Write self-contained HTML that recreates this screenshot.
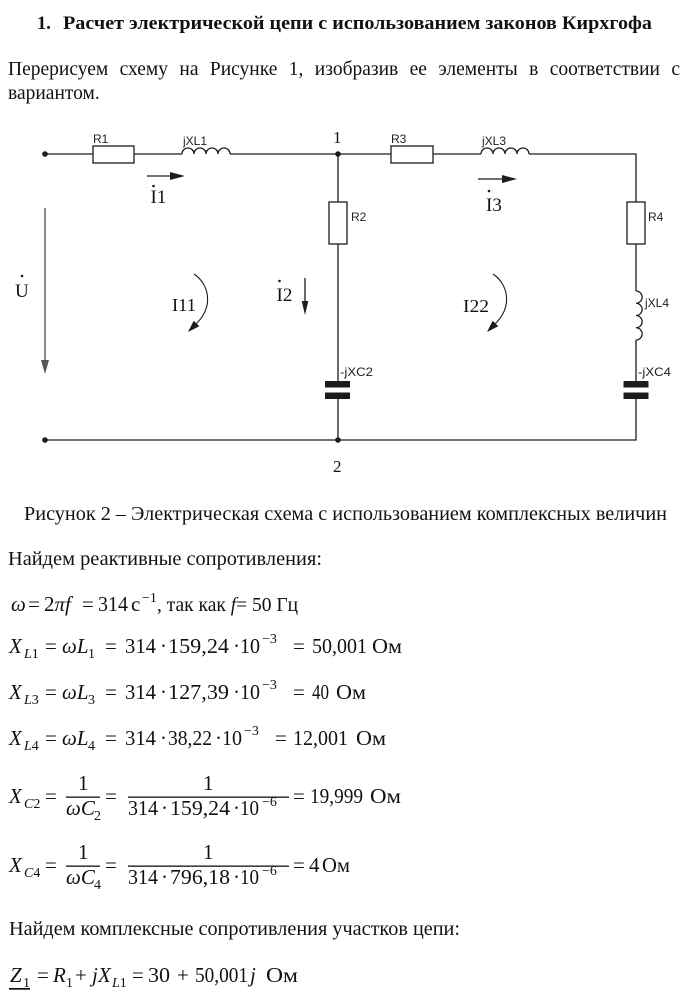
<!DOCTYPE html>
<html><head><meta charset="utf-8">
<style>
html,body{margin:0;padding:0;background:#fff;}
body{position:relative;width:688px;height:1000px;overflow:hidden;}
svg{display:block;position:absolute;left:0;top:0;}
.t{font-family:"Liberation Serif",serif;fill:#111;}
.m{font-family:"Liberation Serif",serif;font-size:21px;fill:#111;}
.sb{font-family:"Liberation Serif",serif;font-size:14px;fill:#111;}
.s{font-family:"Liberation Sans",sans-serif;font-size:12px;fill:#222;}
.i{font-style:italic;}
#para{position:absolute;left:8px;top:58px;width:672px;font-family:"Liberation Serif",serif;font-size:19.5px;line-height:24px;color:#111;text-align:justify;margin:0;}
</style></head><body>
<svg width="688" height="1000" viewBox="0 0 688 1000" xmlns="http://www.w3.org/2000/svg">
<rect width="688" height="1000" fill="#fff"/>

<!-- Title -->
<text class="t" x="37" y="29" font-size="18.5" font-weight="bold">1.</text>
<text class="t" x="63" y="29" font-size="18.5" font-weight="bold" textLength="589" lengthAdjust="spacingAndGlyphs">Расчет электрической цепи с использованием законов Кирхгофа</text>

<!-- Circuit -->
<g stroke="#1c1c1c" stroke-width="1.3" fill="none">
  <path d="M45,154 H93 M134,154 H182 M230,154 H391 M433,154 H481 M529,154 H636 V202 M636,244 V291 M636,340 V381 M636,399 V440 H45"/>
  <path d="M338,154 V202 M338,244 V381 M338,399 V440"/>
  <rect x="93" y="146" width="41" height="17"/>
  <rect x="391" y="146" width="42" height="17"/>
  <rect x="329" y="202" width="18" height="42"/>
  <rect x="627" y="202" width="18" height="42"/>
  <path d="M182,154 a6,6 0 0 1 12,0 a6,6 0 0 1 12,0 a6,6 0 0 1 12,0 a6,6 0 0 1 12,0"/>
  <path d="M481,154 a6,6 0 0 1 12,0 a6,6 0 0 1 12,0 a6,6 0 0 1 12,0 a6,6 0 0 1 12,0"/>
  <path d="M636,291 a6.1,6.1 0 0 1 0,12.25 a6.1,6.1 0 0 1 0,12.25 a6.1,6.1 0 0 1 0,12.25 a6.1,6.1 0 0 1 0,12.25"/>
  <path d="M147,176 H172"/>
  <path d="M478,179 H503"/>
  <path d="M305,278 V302"/>
  <path d="M194,274 C209,284 214,306 196.5,323.5" stroke-width="1.1"/>
  <path d="M493,274 C508,284 513,306 495.5,323.5" stroke-width="1.1"/>
</g>
<path d="M45,208 V362" stroke="#707070" stroke-width="1.6"/>
<polygon points="41,360 45,374 49,360" fill="#555"/>
<g fill="#1c1c1c">
  <rect x="325" y="381" width="25" height="6.5"/>
  <rect x="325" y="392.5" width="25" height="6.5"/>
  <rect x="623.5" y="381" width="25" height="6.5"/>
  <rect x="623.5" y="392.5" width="25" height="6.5"/>
  <circle cx="45" cy="154" r="2.8"/>
  <circle cx="338" cy="154" r="2.8"/>
  <circle cx="45" cy="440" r="2.8"/>
  <circle cx="338" cy="440" r="2.8"/>
  <polygon points="170,172 185,176 170,180"/>
  <polygon points="502,175 517,179 502,183"/>
  <polygon points="301.7,301 305,315 308.3,301"/>
  <polygon points="188,332 199.3,326.3 193.7,320.7"/>
  <polygon points="487,332 498.3,326.3 492.7,320.7"/>
  <circle cx="153.5" cy="186" r="1.3"/>
  <circle cx="489" cy="191" r="1.3"/>
  <circle cx="279.5" cy="281" r="1.3"/>
  <circle cx="22" cy="276" r="1.3"/>
</g>

<text class="s" x="93" y="143">R1</text>
<text class="s" x="183" y="145">jXL1</text>
<text class="s" x="391" y="143">R3</text>
<text class="s" x="482" y="145">jXL3</text>
<text class="s" x="351" y="221">R2</text>
<text class="s" x="648" y="221">R4</text>
<text class="s" x="645" y="307">jXL4</text>
<text class="s" x="340" y="376" textLength="33" lengthAdjust="spacingAndGlyphs">-jXC2</text>
<text class="s" x="638" y="376" textLength="33" lengthAdjust="spacingAndGlyphs">-jXC4</text>

<text class="t" x="333" y="143" font-size="17">1</text>
<text class="t" x="333" y="472" font-size="17">2</text>
<text class="t" x="150.5" y="203" font-size="19">I1</text>
<text class="t" x="486" y="211" font-size="19">I3</text>
<text class="t" x="276.5" y="301" font-size="19">I2</text>
<text class="t" x="15" y="297" font-size="19">U</text>
<text class="t" x="172" y="311" font-size="18" textLength="24" lengthAdjust="spacingAndGlyphs">I11</text>
<text class="t" x="463" y="312" font-size="18" textLength="26" lengthAdjust="spacingAndGlyphs">I22</text>

<!-- Caption -->
<text class="t" x="24" y="520" font-size="19.5" textLength="643" lengthAdjust="spacingAndGlyphs">Рисунок 2 – Электрическая схема с использованием комплексных величин</text>

<text class="t" x="8" y="565" font-size="19.5" textLength="314" lengthAdjust="spacingAndGlyphs">Найдем реактивные сопротивления:</text>

<!-- omega line -->
<text class="m i" x="11" y="611">ω</text>
<text class="m" x="28" y="611">=</text>
<text class="m" x="44" y="611">2<tspan class="i">πf</tspan></text>
<text class="m" x="82" y="611">=</text>
<text class="m" x="98" y="611" textLength="30" lengthAdjust="spacingAndGlyphs">314</text>
<text class="m" x="131" y="611">с</text>
<text class="sb" x="142" y="602">−1</text>
<text class="t" x="157" y="611" font-size="19.5">, так как <tspan class="i">f</tspan>= 50 Гц</text>

<!-- XL1 -->
<text class="m i" x="9" y="653">X</text>
<text class="sb" x="24" y="658"><tspan class="i">L</tspan>1</text>
<text class="m" x="45" y="653">=</text>
<text class="m i" x="62" y="653">ωL</text>
<text class="sb" x="88" y="658">1</text>
<text class="m" x="105" y="653">=</text>
<text class="m" x="125" y="653" textLength="31" lengthAdjust="spacingAndGlyphs">314</text>
<text class="m" x="160" y="653">·</text>
<text class="m" x="168" y="653" textLength="61" lengthAdjust="spacingAndGlyphs">159,24</text>
<text class="m" x="233" y="653">·</text>
<text class="m" x="240" y="653" textLength="20" lengthAdjust="spacingAndGlyphs">10</text>
<text class="sb" x="262" y="643">−3</text>
<text class="m" x="293" y="653">=</text>
<text class="m" x="312" y="653" textLength="55" lengthAdjust="spacingAndGlyphs">50,001</text>
<text class="m" x="372" y="653" textLength="30" lengthAdjust="spacingAndGlyphs">Ом</text>

<!-- XL3 -->
<text class="m i" x="9" y="699">X</text>
<text class="sb" x="24" y="704"><tspan class="i">L</tspan>3</text>
<text class="m" x="45" y="699">=</text>
<text class="m i" x="62" y="699">ωL</text>
<text class="sb" x="88" y="704">3</text>
<text class="m" x="105" y="699">=</text>
<text class="m" x="125" y="699" textLength="31" lengthAdjust="spacingAndGlyphs">314</text>
<text class="m" x="160" y="699">·</text>
<text class="m" x="168" y="699" textLength="61" lengthAdjust="spacingAndGlyphs">127,39</text>
<text class="m" x="233" y="699">·</text>
<text class="m" x="240" y="699" textLength="20" lengthAdjust="spacingAndGlyphs">10</text>
<text class="sb" x="262" y="689">−3</text>
<text class="m" x="293" y="699">=</text>
<text class="m" x="312" y="699" textLength="17" lengthAdjust="spacingAndGlyphs">40</text>
<text class="m" x="336" y="699" textLength="30" lengthAdjust="spacingAndGlyphs">Ом</text>

<!-- XL4 -->
<text class="m i" x="9" y="745">X</text>
<text class="sb" x="24" y="750"><tspan class="i">L</tspan>4</text>
<text class="m" x="45" y="745">=</text>
<text class="m i" x="62" y="745">ωL</text>
<text class="sb" x="88" y="750">4</text>
<text class="m" x="105" y="745">=</text>
<text class="m" x="125" y="745" textLength="31" lengthAdjust="spacingAndGlyphs">314</text>
<text class="m" x="160" y="745">·</text>
<text class="m" x="168" y="745" textLength="44" lengthAdjust="spacingAndGlyphs">38,22</text>
<text class="m" x="215" y="745">·</text>
<text class="m" x="222" y="745" textLength="20" lengthAdjust="spacingAndGlyphs">10</text>
<text class="sb" x="244" y="735">−3</text>
<text class="m" x="275" y="745">=</text>
<text class="m" x="293" y="745" textLength="55" lengthAdjust="spacingAndGlyphs">12,001</text>
<text class="m" x="356" y="745" textLength="30" lengthAdjust="spacingAndGlyphs">Ом</text>

<!-- XC2 -->
<text class="m i" x="9" y="803">X</text>
<text class="sb" x="24" y="808"><tspan class="i">C</tspan>2</text>
<text class="m" x="45" y="803">=</text>
<rect x="66" y="796.5" width="34" height="1.3" fill="#111"/>
<text class="m" x="78" y="790">1</text>
<text class="m i" x="66" y="815">ωC</text>
<text class="sb" x="94" y="820">2</text>
<text class="m" x="105" y="803">=</text>
<rect x="128" y="796.5" width="161" height="1.3" fill="#111"/>
<text class="m" x="203" y="790">1</text>
<text class="m" x="128" y="815" textLength="30" lengthAdjust="spacingAndGlyphs">314</text>
<text class="m" x="161" y="815">·</text>
<text class="m" x="170" y="815" textLength="60" lengthAdjust="spacingAndGlyphs">159,24</text>
<text class="m" x="233" y="815">·</text>
<text class="m" x="240" y="815" textLength="19" lengthAdjust="spacingAndGlyphs">10</text>
<text class="sb" x="262" y="806">−6</text>
<text class="m" x="293" y="803">=</text>
<text class="m" x="310" y="803" textLength="53" lengthAdjust="spacingAndGlyphs">19,999</text>
<text class="m" x="370" y="803" textLength="31" lengthAdjust="spacingAndGlyphs">Ом</text>

<!-- XC4 -->
<text class="m i" x="9" y="872">X</text>
<text class="sb" x="24" y="877"><tspan class="i">C</tspan>4</text>
<text class="m" x="45" y="872">=</text>
<rect x="66" y="865.5" width="34" height="1.3" fill="#111"/>
<text class="m" x="78" y="859">1</text>
<text class="m i" x="66" y="884">ωC</text>
<text class="sb" x="94" y="889">4</text>
<text class="m" x="105" y="872">=</text>
<rect x="128" y="865.5" width="161" height="1.3" fill="#111"/>
<text class="m" x="203" y="859">1</text>
<text class="m" x="128" y="884" textLength="30" lengthAdjust="spacingAndGlyphs">314</text>
<text class="m" x="161" y="884">·</text>
<text class="m" x="170" y="884" textLength="60" lengthAdjust="spacingAndGlyphs">796,18</text>
<text class="m" x="233" y="884">·</text>
<text class="m" x="240" y="884" textLength="19" lengthAdjust="spacingAndGlyphs">10</text>
<text class="sb" x="262" y="875">−6</text>
<text class="m" x="293" y="872">=</text>
<text class="m" x="309" y="872">4</text>
<text class="m" x="322" y="872" textLength="28" lengthAdjust="spacingAndGlyphs">Ом</text>

<text class="t" x="9" y="935" font-size="19.5" textLength="451" lengthAdjust="spacingAndGlyphs">Найдем комплексные сопротивления участков цепи:</text>

<!-- Z1 -->
<text class="m i" x="10" y="982">Z</text>
<text class="sb" x="23" y="987">1</text>
<rect x="9" y="988" width="21" height="1.7" fill="#111"/>
<text class="m" x="37" y="982">=</text>
<text class="m i" x="53" y="982">R</text>
<text class="sb" x="66" y="987">1</text>
<text class="m" x="75" y="982">+</text>
<text class="m i" x="92" y="982">j</text>
<text class="m i" x="98" y="982">X</text>
<text class="sb" x="112" y="987"><tspan class="i">L</tspan>1</text>
<text class="m" x="132" y="982">=</text>
<text class="m" x="148" y="982" textLength="22" lengthAdjust="spacingAndGlyphs">30</text>
<text class="m" x="177" y="982">+</text>
<text class="m" x="195" y="982" textLength="53" lengthAdjust="spacingAndGlyphs">50,001</text>
<text class="m i" x="250" y="982">j</text>
<text class="m" x="266" y="982" textLength="32" lengthAdjust="spacingAndGlyphs">Ом</text>
</svg>
<p id="para">Перерисуем схему на Рисунке 1, изобразив ее элементы в соответствии с вариантом.</p>
</body></html>
